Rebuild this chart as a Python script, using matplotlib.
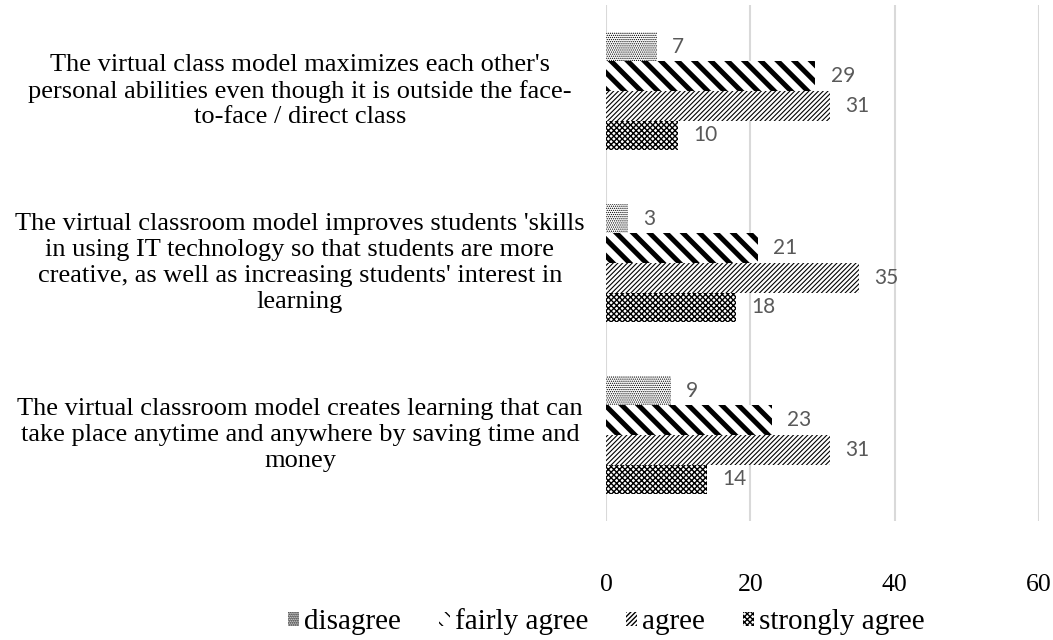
import matplotlib
matplotlib.use("Agg")
import matplotlib.pyplot as plt
import numpy as np

statements = [
    "The virtual class model maximizes each other's\npersonal abilities even though it is outside the face-\nto-face / direct class",
    "The virtual classroom model improves students 'skills\nin using IT technology so that students are more\ncreative, as well as increasing students' interest in\nlearning",
    "The virtual classroom model creates learning that can\ntake place anytime and anywhere by saving time and\nmoney",
]
series_names = ["disagree", "fairly agree", "agree", "strongly agree"]
disagree = [7, 3, 9]
fairly_agree = [29, 21, 23]
agree = [31, 35, 31]
strongly_agree = [10, 18, 14]
xticks = [0, 20, 40, 60]

values = [disagree, fairly_agree, agree, strongly_agree]
hatches = ["........", "\\\\", "///////", "xxxxxx"]
hatch_lw = [0.6, 3.6, 0.8, 1.0]

plt.rcParams['font.family'] = ['Liberation Serif', 'DejaVu Serif']

fig = plt.figure(figsize=(10.53, 6.4), dpi=100)
ax = fig.add_axes([606/1053, 1 - 521/640, 433/1053, 516/640])

y = np.arange(len(statements))[::-1]  # first statement on top
h = 0.172
for i, (name, vals) in enumerate(zip(series_names, values)):
    plt.rcParams['hatch.linewidth'] = hatch_lw[i]
    off = (1.5 - i) * h
    bars = ax.barh(y + off, vals, height=h, color='white', edgecolor='black',
                   linewidth=0, hatch=hatches[i], label=name, zorder=3)
    for b in bars:
        try:
            b.set_hatch_linewidth(hatch_lw[i])
        except AttributeError:
            pass
    for yy, v in zip(y + off, vals):
        ax.annotate(str(v), (v, yy), xytext=(11, 0), textcoords='offset points',
                    ha='left', va='center', fontsize=15, color='#595959',
                    family=['Lato', 'DejaVu Sans'])

ax.set_xlim(0, 60)
ax.set_ylim(-0.5, len(statements) - 0.5)
ax.set_xticks(xticks)
ax.set_xticklabels([str(t) for t in xticks], fontsize=18.5)
ax.set_yticks([])
ax.tick_params(axis='x', length=0, pad=38)
ax.grid(axis='x', color='#d9d9d9', linewidth=1.5, zorder=0)
for s in ax.spines.values():
    s.set_visible(False)

for yy, txt in zip(y, statements):
    ax.text(-0.7067, yy, txt, transform=ax.get_yaxis_transform(), ha='center',
            va='center', multialignment='center', fontsize=19, linespacing=1.22)

leg = fig.legend(loc='center', bbox_to_anchor=(606/1053, 1 - 622/640), ncol=4,
                 frameon=False, fontsize=21, handlelength=0.4, handleheight=0.4,
                 handletextpad=0.15, columnspacing=1.3, borderpad=0)

fig.savefig("out.png", dpi=100)
